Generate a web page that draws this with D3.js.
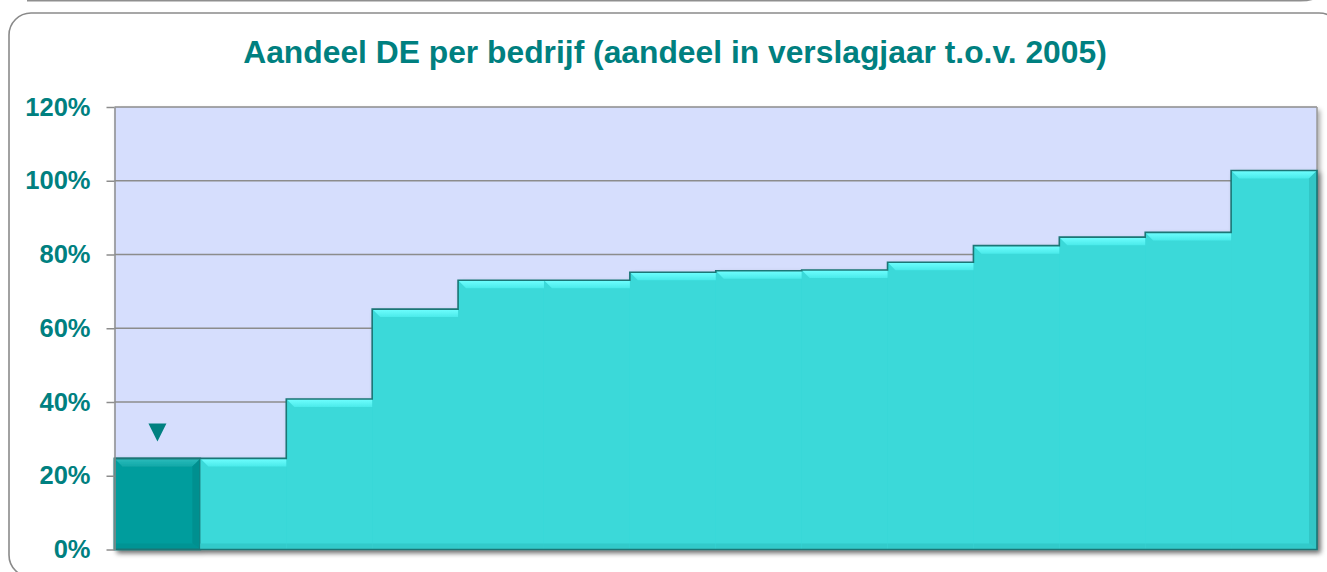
<!DOCTYPE html>
<html>
<head>
<meta charset="utf-8">
<script src="https://cdn.jsdelivr.net/npm/d3@7"></script>
<style>
  html, body { margin: 0; padding: 0; background: #fff; }
  svg { display: block; }
</style>
</head>
<body>
<svg id="chart" width="1327" height="572"></svg>
<script>
// data
const titel = 'Aandeel DE per bedrijf (aandeel in verslagjaar t.o.v. 2005)';
const bedrijven = ['1', '2', '3', '4', '5', '6', '7', '8', '9', '10', '11', '12', '13', '14'];
const aandeel = [24.7, 24.7, 40.8, 65.2, 73.0, 73.0, 75.2, 75.6, 75.8, 77.9, 82.4, 84.7, 86.0, 102.8];
const gemarkeerd = ['1'];
const yTicks = [0, 20, 40, 60, 80, 100, 120];

const plot = { left: 114.5, right: 1317, top: 107, bottom: 549.5 };
const font = '"Liberation Sans", Arial, sans-serif';

const svg = d3.select('#chart');
const defs = svg.append('defs');

// soft shadow for the bars / plot area
const sh = defs.append('filter').attr('id', 'shadow')
  .attr('x', '-5%').attr('y', '-5%').attr('width', '110%').attr('height', '115%');
sh.append('feDropShadow').attr('dx', 3).attr('dy', 3).attr('stdDeviation', 2.5)
  .attr('flood-color', '#000').attr('flood-opacity', 0.35);

const topGrad = defs.append('linearGradient').attr('id', 'topBevel')
  .attr('x1', 0).attr('y1', 0).attr('x2', 0).attr('y2', 1);
topGrad.append('stop').attr('offset', '0%').attr('stop-color', '#70ffff');
topGrad.append('stop').attr('offset', '100%').attr('stop-color', '#4aeaea');

const topGradDark = defs.append('linearGradient').attr('id', 'topBevelDark')
  .attr('x1', 0).attr('y1', 0).attr('x2', 0).attr('y2', 1);
topGradDark.append('stop').attr('offset', '0%').attr('stop-color', '#2cbcbc');
topGradDark.append('stop').attr('offset', '100%').attr('stop-color', '#12a8a8');

// outer frame (and the bottom edge of the frame above)
svg.append('path')
  .attr('d', 'M27,0.8 L1300,0.8 Q1318,0.8 1322,-8')
  .attr('fill', 'none').attr('stroke', '#8f8f8f').attr('stroke-width', 1.5);
svg.append('rect')
  .attr('x', 9).attr('y', 13).attr('width', 1332).attr('height', 564).attr('rx', 22)
  .attr('fill', '#fff').attr('stroke', '#8a8a8a').attr('stroke-width', 1.6);

// title
svg.append('text')
  .attr('x', 675).attr('y', 62.7)
  .attr('text-anchor', 'middle')
  .attr('font-family', font)
  .attr('font-weight', 'bold')
  .attr('font-size', 31.8)
  .attr('fill', '#008080')
  .text(titel);

// scales
const x = d3.scaleBand().domain(bedrijven).range([plot.left, plot.right]).padding(0);
const y = d3.scaleLinear().domain([0, 120]).range([plot.bottom, plot.top]);

// plot background
svg.append('rect')
  .attr('x', plot.left).attr('y', plot.top)
  .attr('width', plot.right - plot.left).attr('height', plot.bottom - plot.top)
  .attr('fill', '#d6defd')
  .attr('filter', 'url(#shadow)');

// gridlines
svg.append('g').selectAll('line')
  .data(yTicks.filter(d => d > 0))
  .join('line')
  .attr('x1', plot.left).attr('x2', plot.right)
  .attr('y1', d => y(d)).attr('y2', d => y(d))
  .attr('stroke', '#8c8c8c').attr('stroke-width', 1.5);

// right border of plot area
svg.append('line')
  .attr('x1', plot.right).attr('x2', plot.right)
  .attr('y1', plot.top).attr('y2', plot.bottom)
  .attr('stroke', '#9a9a9a').attr('stroke-width', 1.5);

// bars
const barData = bedrijven.map((c, i) => ({ cat: c, val: aandeel[i], hi: gemarkeerd.includes(c), last: i === bedrijven.length - 1 }));
const b = 8; // bevel size

const bars = svg.append('g').attr('filter', 'url(#shadow)');

// silhouette of all bars together (fill, drop shadow)
const stepPts = barData.map(d => [x(d.cat), y(d.val)]);
stepPts.push([plot.right, y(aandeel[aandeel.length - 1])]);
const area = d3.area().x(d => d[0]).y0(y(0)).y1(d => d[1]).curve(d3.curveStepAfter);
bars.append('path').attr('d', area(stepPts)).attr('fill', '#3ad9d9');

const g = bars.selectAll('g.bar').data(barData).join('g').attr('class', 'bar');

g.append('rect')
  .attr('x', d => x(d.cat)).attr('y', d => y(d.val))
  .attr('width', x.bandwidth()).attr('height', d => y(0) - y(d.val))
  .attr('fill', d => d.hi ? '#039d9d' : '#3ad9d9');

// bevel: top band of every bar
g.append('polygon')
  .attr('points', d => {
    const x0 = x(d.cat), x1 = x0 + x.bandwidth(), y0 = y(d.val);
    return [[x0, y0], [x1, y0], [x1 + (d.last || d.hi ? -b : b), y0 + b], [x0 + b, y0 + b]].join(' ');
  })
  .attr('fill', d => d.hi ? 'url(#topBevelDark)' : 'url(#topBevel)');

// bottom band
g.append('polygon')
  .attr('points', d => {
    const x0 = x(d.cat), x1 = x0 + x.bandwidth(), y1 = y(0);
    const r = d.last || d.hi ? x1 - b : x1;
    return [[x0, y1], [x1, y1], [r, y1 - b + 2], [x0, y1 - b + 2]].join(' ');
  })
  .attr('fill', d => d.hi ? '#059494' : '#33caca');

// right band on the last bar and the highlighted bar
g.filter(d => d.last || d.hi).append('polygon')
  .attr('points', d => {
    const x1 = x(d.cat) + x.bandwidth(), y0 = y(d.val), y1 = y(0);
    return [[x1, y0], [x1, y1], [x1 - b, y1 - b + 2], [x1 - b, y0 + b]].join(' ');
  })
  .attr('fill', d => d.hi ? '#049090' : '#31c6c6');

// dark outline: the step line over all bars, plus the highlighted bar
bars.append('path')
  .attr('d', area(stepPts))
  .attr('fill', 'none')
  .attr('stroke', '#1c7676').attr('stroke-width', 1.6);

g.filter(d => d.hi).append('rect')
  .attr('x', d => x(d.cat)).attr('y', d => y(d.val))
  .attr('width', x.bandwidth()).attr('height', d => y(0) - y(d.val))
  .attr('fill', 'none')
  .attr('stroke', '#1c7676').attr('stroke-width', 1.6);

// marker above the highlighted company
svg.append('g').selectAll('path')
  .data(barData.filter(d => d.hi))
  .join('path')
  .attr('transform', d => `translate(${x(d.cat) + x.bandwidth() / 2},${y(d.val) - 26})`)
  .attr('d', 'M-9,-9 L9,-9 L0,9 Z')
  .attr('fill', '#008080');

// y axis
const yAxis = svg.append('g')
  .attr('transform', `translate(${plot.left},0)`)
  .call(d3.axisLeft(y).tickValues(yTicks).tickFormat(d => d + '%').tickSizeInner(8).tickSizeOuter(0).tickPadding(16));

yAxis.select('.domain').attr('stroke', '#8c8c8c').attr('stroke-width', 1.5);
yAxis.selectAll('.tick line').attr('stroke', '#8c8c8c').attr('stroke-width', 1.5);
yAxis.selectAll('.tick text')
  .attr('font-family', font)
  .attr('font-weight', 'bold')
  .attr('font-size', 25.5)
  .attr('fill', '#008080');
</script>
</body>
</html>
